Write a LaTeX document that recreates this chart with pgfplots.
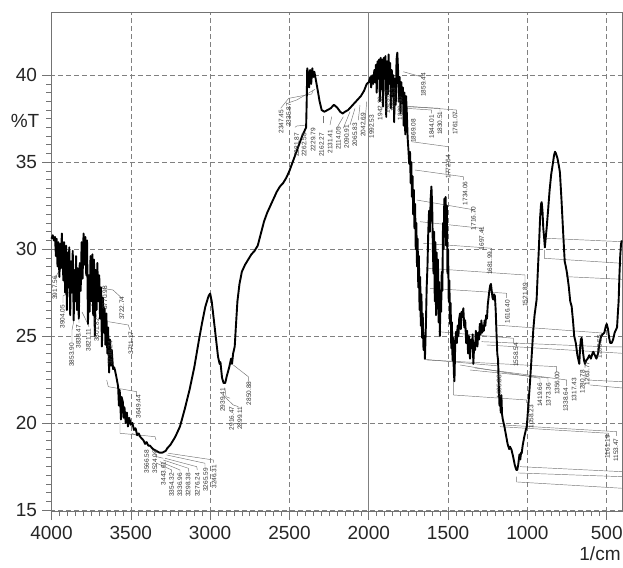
\documentclass[border=0pt]{standalone}
\usepackage{fontspec}
\setmainfont{Liberation Sans}
\usepackage{pgfplots}
\pgfplotsset{compat=1.18}
\pgfplotsset{leader/.style={black!55, line width=0.45pt, mark=none}}
\newcommand\ld[1]{\addplot[leader] table[row sep=\\, x expr={4000-(\thisrow{a}-51.5)*6.3036}, y expr={15+(510-\thisrow{b})*0.0575}] {a b\\ #1};}
\newcommand\pk[3]{\node[rotate=90, font=\fontsize{6.5}{7}\selectfont, text=black!80, inner sep=0pt] at (axis cs:#1,#2) {#3};}
\begin{document}
\begin{tikzpicture}
\begin{axis}[
  scale only axis, width=571.2pt, height=498.7pt,
  x dir=reverse, xmin=399.4, xmax=4000, ymin=14.94, ymax=43.62,
  axis line style={draw=black!55, line width=0.7pt},
  xtick={500,1000,...,4000}, ytick={15,20,...,40},
  minor x tick num=9, minor y tick num=9,
  tick align=outside, tick pos=left,
  major tick length=9pt, minor tick length=5pt,
  tick style={black!55, line width=0.6pt},
  grid=major,
  major grid style={black!50, line width=0.6pt, dash pattern=on 4.5pt off 3.5pt},
  /pgf/number format/assume math mode=true,
  /pgf/number format/1000 sep={},
  ticklabel style={font=\fontsize{19}{22}\selectfont, text=black!85},
  xticklabel style={yshift=-3pt},
  yticklabel style={xshift=-2pt},
  clip=false,
]
\addplot[black!50, line width=0.7pt, mark=none] coordinates {(2000,14.94) (2000,43.62)};
% leader lines (pixel positions of the reference, mapped onto the axes)
\ld{55 278\\ 61.7 266.7\\ 66 264\\}
\ld{63 303\\ 63 296\\ 70 292\\}
\ld{72 342\\ 72 330\\ 74 320\\}
\ld{79 323\\ 79 313\\ 80 305\\}
\ld{89 327\\ 85 318\\ 82 312\\}
\ld{97 318\\ 95 310\\ 90 303\\}
\ld{100 288\\ 113 290\\ 121.7 298\\}
\ld{108.3 321.7\\ 128.3 325\\ 130 330\\}
\ld{106.7 380\\ 108.3 386.7\\ 136.7 391.7\\ 136.7 396.7\\}
\ld{120 421.7\\ 120 433.3\\ 155 436.7\\ 156 440\\}
\ld{131.7 433.3\\ 140 436.7\\ 146.7 443.3\\}
\ld{154.3 453.3\\ 156.7 456.7\\ 163.3 458.3\\}
\ld{168.3 453.3\\ 213.3 460\\ 213.3 462.7\\}
\ld{166.7 455\\ 205 463.3\\ 205 466.7\\}
\ld{165 458.3\\ 196.7 466.7\\ 197.3 470\\}
\ld{163.3 460\\ 188.3 468.3\\ 188.3 471.7\\}
\ld{160 461.7\\ 180 470\\ 180 471.7\\}
\ld{156.7 463.3\\ 171.7 470\\ 171.7 472.7\\}
\ld{225 388.3\\ 226 396.7\\ 230 398.3\\}
\ld{222.7 395\\ 233.3 405\\ 238.3 406.7\\}
\ld{233.3 365\\ 248.3 376.7\\ 248.3 381.7\\}
\ld{280.7 108.3\\ 288.7 98.3\\ 311.7 94\\ 313.3 90\\}
\ld{288.7 102.7\\ 296.7 100\\ 315 89.3\\}
\ld{295 127.3\\ 296.7 126\\ 306.7 125\\}
\ld{323.3 123.3\\ 323.3 116\\}
\ld{330 125\\ 331.7 116.7\\}
\ld{336.7 128.3\\ 343.3 116.7\\}
\ld{343.3 128.3\\ 350 111.7\\}
\ld{350 125\\ 355 108.3\\}
\ld{358.3 120\\ 360 105\\}
\ld{365 121.7\\ 366.7 101.7\\}
\ld{403.3 71.7\\ 423.3 77.3\\}
\ld{405 106\\ 456.7 110\\ 456.7 113.3\\}
\ld{406.7 106.7\\ 440 108.3\\ 440 111.7\\}
\ld{406 108.3\\ 431.7 110\\ 431.7 113.3\\}
\ld{411.7 141.7\\ 448.3 146.7\\ 448.3 152\\}
\ld{415 170\\ 463.3 176.7\\ 463.3 180\\}
\ld{416.7 200\\ 475 210\\ 475 213\\}
\ld{420 221.7\\ 481.7 228.3\\ 481.7 231\\}
\ld{423.3 243.3\\ 491.7 248.3\\ 491.7 252\\}
\ld{428.3 268.3\\ 525 275\\ 525 282\\}
\ld{430 288.3\\ 506.7 293.3\\ 506.7 298\\}
\ld{546.7 238.3\\ 622 241.7\\}
\ld{544.3 250\\ 544.3 258.3\\ 622 263.3\\}
\ld{566.7 270\\ 566.7 276.7\\ 622 279.3\\}
\ld{438.3 331.7\\ 513.3 338.3\\ 513.3 343\\}
\ld{495 325\\ 601.7 333\\ 601.7 336\\}
\ld{481.7 341.7\\ 603 346.7\\ 622 347\\}
\ld{486.7 345\\ 622 353.3\\}
\ld{426.7 360\\ 556.7 366.7\\ 556.7 372\\}
\ld{424 359.3\\ 499 366\\ 499 372\\}
\ld{460 365\\ 540 378.3\\ 540 382\\}
\ld{470 370\\ 548 378\\ 548 382\\}
\ld{475 368\\ 566.7 380\\ 566.7 386\\}
\ld{453.3 380\\ 453.3 395\\ 526.7 400\\ 526.7 403\\}
\ld{500 426.7\\ 608.3 433.3\\ 608.3 437\\}
\ld{503.3 425\\ 616.7 431.7\\ 616.7 436\\}
\ld{520 466.7\\ 622 471.7\\}
\ld{518 473\\ 622 476.7\\}
\ld{516.7 476.7\\ 516.7 482\\ 622 488.3\\}
\ld{586.7 380\\ 622 381.7\\}
\ld{590 385\\ 622 388\\}
% spectrum
\addplot[black, line width=1.9pt, line join=round, mark=none] coordinates {
(4000,30.6)(3992,30.8)(3985,30.5)(3978,30.7)(3972,29.6)(3968,30.6)(3962,29.0)(3957,30.4)
(3950,28.4)(3945,30.3)(3940,28.9)(3935,30.9)(3930,29.5)(3925,28.2)(3920,30.4)(3914,27.5)
(3908,30.2)(3903,26.5)(3898,29.8)(3893,27.8)(3888,30.1)(3882,26.2)(3877,29.3)(3872,27.5)
(3866,29.9)(3860,25.9)(3855,28.8)(3850,27.0)(3845,29.6)(3840,26.5)(3835,28.9)(3828,26.0)
(3822,29.2)(3816,27.6)(3810,30.4)(3804,28.3)(3798,30.9)(3792,29.1)(3786,30.7)(3781,28.5)
(3776,30.5)(3770,25.7)(3765,28.5)(3760,26.4)(3754,29.6)(3748,27.0)(3742,29.7)(3737,26.2)
(3732,29.4)(3727,25.0)(3722,28.8)(3716,26.5)(3711,29.2)(3705,27.0)(3699,28.5)(3694,26.0)
(3688,27.8)(3682,24.4)(3676,27.2)(3670,25.2)(3665,26.6)(3660,24.5)(3654,26.3)(3648,24.0)
(3643,25.5)(3637,22.9)(3631,24.8)(3625,23.3)(3620,24.2)(3612,23.1)(3605,23.2)(3600,23.05)
(3590,22.6)(3580,22.1)(3575,21.0)(3570,21.9)(3562,20.2)(3558,21.5)(3550,21.2)(3545,20.3)
(3540,20.9)(3532,20.0)(3525,20.6)(3518,19.8)(3510,20.3)(3500,19.9)(3490,20.0)(3480,19.6)
(3470,19.7)(3460,19.3)(3450,19.4)(3440,19.2)(3430,19.1)(3420,19.0)(3410,18.8)(3400,18.9)
(3390,18.7)(3380,18.7)(3370,18.6)(3360,18.5)(3350,18.45)(3340,18.4)(3330,18.35)(3320,18.3)
(3310,18.3)(3300,18.3)(3290,18.35)(3280,18.4)(3270,18.55)(3250,18.75)(3220,19.2)(3190,19.8)
(3160,20.8)(3130,21.9)(3100,23.2)(3070,24.8)(3050,25.8)(3030,26.7)(3010,27.3)(3000,27.45)
(2990,27.0)(2980,26.2)(2965,25.0)(2950,23.8)(2940,23.4)(2935,23.5)(2925,22.6)(2915,22.3)
(2905,22.3)(2895,22.7)(2880,23.2)(2868,23.7)(2862,23.4)(2855,24.0)(2845,24.4)(2838,25.5)
(2828,27.0)(2815,28.0)(2800,28.7)(2780,29.1)(2760,29.4)(2740,29.7)(2720,29.9)(2700,30.2)
(2680,30.9)(2660,31.6)(2640,32.1)(2620,32.5)(2600,32.9)(2580,33.3)(2560,33.6)(2540,33.8)
(2520,34.1)(2500,34.5)(2480,35.0)(2460,35.5)(2440,36.0)(2420,36.5)(2405,36.8)(2395,37.0)
(2391,38.6)(2388,40.4)(2382,40.1)(2376,39.3)(2370,40.3)(2363,39.5)(2356,40.4)(2350,39.9)
(2343,40.2)(2335,39.8)(2325,39.3)(2310,38.5)(2297,38.0)(2280,37.9)(2260,38.0)(2240,38.1)
(2220,38.3)(2200,38.15)(2180,37.9)(2165,37.8)(2150,37.9)(2130,38.0)(2110,38.2)(2090,38.4)
(2070,38.6)(2050,38.8)(2030,39.1)(2013,39.5)(2000,39.6)(1990,39.9)(1985,39.3)(1978,40.0)
(1972,39.5)(1965,40.3)(1960,39.6)(1955,40.6)(1950,39.0)(1945,40.8)(1940,39.8)(1935,40.9)
(1930,38.5)(1925,41.0)(1920,39.2)(1915,40.9)(1910,38.2)(1905,41.0)(1900,39.8)(1895,41.1)
(1890,37.6)(1885,40.8)(1880,38.9)(1875,41.2)(1870,39.5)(1865,40.7)(1860,38.1)(1855,40.3)
(1850,38.8)(1845,40.0)(1840,37.3)(1835,39.8)(1830,38.3)(1825,40.9)(1820,41.3)(1815,40.2)
(1810,38.5)(1805,39.9)(1800,37.8)(1795,39.6)(1790,38.4)(1785,39.3)(1780,37.1)(1775,39.0)
(1770,36.6)(1765,38.8)(1760,37.8)(1755,36.4)(1750,35.7)(1745,34.9)(1740,35.6)(1736,33.8)
(1732,35.0)(1728,33.0)(1724,34.2)(1720,32.0)(1716,33.4)(1712,31.2)(1708,32.6)(1704,30.0)
(1700,31.5)(1696,29.0)(1692,30.6)(1688,27.8)(1684,29.6)(1680,26.5)(1676,28.4)(1672,25.6)
(1668,27.4)(1664,24.9)(1660,26.3)(1655,24.2)(1650,25.0)(1646,23.7)(1640,25.6)(1635,27.8)
(1630,29.0)(1625,31.0)(1620,32.2)(1615,31.0)(1610,32.9)(1605,33.6)(1600,32.4)(1596,30.0)
(1592,28.6)(1588,31.0)(1584,27.0)(1580,30.4)(1576,26.2)(1572,29.8)(1568,27.5)(1564,29.4)
(1560,25.8)(1556,28.1)(1552,25.0)(1548,27.2)(1544,26.4)(1540,28.7)(1536,27.6)(1532,31.5)
(1528,30.0)(1524,32.9)(1520,31.4)(1516,33.0)(1512,30.2)(1508,32.5)(1504,28.6)(1500,30.0)
(1496,27.0)(1492,28.2)(1488,25.7)(1484,26.9)(1480,24.3)(1476,25.8)(1472,23.6)(1468,24.9)
(1464,22.9)(1460,22.4)(1455,24.6)(1450,25.25)(1445,24.6)(1440,25.6)(1435,25.0)(1430,26.0)
(1425,26.3)(1420,25.4)(1415,26.4)(1410,26.1)(1404,26.6)(1398,25.5)(1392,25.9)(1386,24.6)
(1380,25.3)(1374,24.0)(1368,25.0)(1362,23.7)(1356,24.8)(1350,24.3)(1345,25.1)(1341,23.4)
(1335,24.6)(1330,24.2)(1325,25.3)(1320,25.0)(1315,24.4)(1310,25.2)(1305,24.8)(1300,25.7)
(1295,25.1)(1290,25.9)(1285,25.2)(1280,25.6)(1275,25.3)(1270,25.9)(1265,25.6)(1260,26.2)
(1255,26.0)(1250,26.8)(1245,27.2)(1240,27.6)(1235,27.9)(1230,28.0)(1225,27.6)(1220,27.2)
(1215,27.1)(1210,27.4)(1205,27.3)(1200,26.5)(1195,25.2)(1190,24.0)(1185,23.6)(1180,22.0)
(1176,21.0)(1172,21.5)(1168,20.6)(1164,21.6)(1160,20.5)(1155,20.2)(1145,19.8)(1135,19.3)
(1125,18.8)(1115,18.5)(1110,18.64)(1100,18.45)(1090,18.06)(1080,17.6)(1070,17.3)(1064,17.3)
(1058,17.6)(1050,18.2)(1045,17.9)(1040,18.3)(1036,18.26)(1030,18.7)(1020,19.2)(1010,19.6)
(1004,19.8)(995,20.9)(984,22.3)(975,23.6)(963,25.35)(955,26.2)(942,27.1)(935,28.6)
(928,30.0)(920,31.8)(914,32.6)(910,32.7)(905,32.2)(900,31.2)(895,30.7)(890,30.1)
(885,30.6)(878,31.3)(870,32.2)(860,33.4)(850,34.3)(840,34.9)(832,35.4)(826,35.6)
(820,35.5)(810,35.2)(800,34.7)(795,34.4)(785,32.8)(775,31.0)(765,29.3)(758,29.0)
(750,28.6)(740,27.9)(730,27.0)(721,26.7)(711,25.7)(705,25.0)(695,24.6)(685,23.9)
(673,23.4)(668,24.3)(663,24.8)(658,24.9)(650,24.1)(643,23.6)(637,23.4)(630,23.6)
(620,23.7)(610,23.9)(600,23.7)(590,24.0)(585,24.1)(575,23.9)(565,23.7)(555,24.0)
(545,24.6)(535,25.0)(525,25.1)(515,25.2)(505,25.6)(500,25.7)(492,25.4)(485,24.9)
(478,24.6)(469,24.6)(460,24.8)(450,25.2)(440,25.4)(435,25.5)(430,26.3)(425,27.0)
(420,28.5)(415,29.6)(410,30.3)(405,30.5)
};
% peak labels
\pk{3978}{27.77}{3917.56}
\pk{3932}{26.12}{3904.05}
\pk{3873}{23.91}{3853.90}
\pk{3831}{24.96}{3838.47}
\pk{3768}{24.78}{3821.11}
\pk{3715}{25.35}{3801.82}
\pk{3663}{27.19}{3770.98}
\pk{3631}{24.03}{3736.24}
\pk{3557}{26.6}{3722.74}
\pk{3499}{24.6}{3711.17}
\pk{3453}{20.94}{3649.44}
\pk{3400}{17.78}{3566.58}
\pk{3348}{17.78}{3524.08}
\pk{3295}{17.11}{3443.61}
\pk{3242}{16.44}{3354.32}
\pk{3190}{16.44}{3336.96}
\pk{3138}{16.44}{3298.38}
\pk{3081}{16.44}{3276.24}
\pk{3028}{16.73}{3265.59}
\pk{2974}{16.91}{3246.31}
\pk{2921}{21.33}{2939.41}
\pk{2864}{20.27}{2916.47}
\pk{2812}{20.27}{2899.11}
\pk{2755}{21.71}{2850.88}
\pk{2553}{37.33}{2347.45}
\pk{2505}{37.71}{2335.87}
\pk{2454}{35.99}{2281.87}
\pk{2408}{35.99}{2262.58}
\pk{2350}{36.28}{2229.79}
\pk{2297}{35.99}{2162.27}
\pk{2244}{36.18}{2131.41}
\pk{2192}{36.37}{2114.05}
\pk{2139}{36.46}{2090.91}
\pk{2087}{36.56}{2065.83}
\pk{2035}{37.14}{2042.69}
\pk{1982}{37.04}{1992.53}
\pk{1929}{38.1}{1942.38}
\pk{1883}{38.48}{1923.08}
\pk{1847}{38.58}{1903.53}
\pk{1803}{38.1}{1880.30}
\pk{1719}{36.8}{1869.08}
\pk{1656}{39.44}{1859.44}
\pk{1603}{37.04}{1844.01}
\pk{1551}{37.24}{1830.51}
\pk{1456}{37.24}{1761.07}
\pk{1499}{34.74}{1772.64}
\pk{1393}{33.21}{1734.06}
\pk{1341}{31.77}{1716.70}
\pk{1288}{30.62}{1697.41}
\pk{1236}{29.19}{1681.99}
\pk{1015}{27.36}{1521.89}
\pk{1127}{26.4}{1616.40}
\pk{1072}{23.91}{1558.54}
\pk{1179}{22.09}{1635.88}
\pk{977}{20.36}{1058.23}
\pk{921}{21.61}{1419.66}
\pk{868}{21.61}{1373.36}
\pk{812}{22.29}{1356.00}
\pk{759}{21.33}{1338.64}
\pk{706}{21.9}{1317.43}
\pk{654}{22.38}{1280.78}
\pk{624}{22.86}{1263.77}
\pk{547}{24.39}{1205.55}
\pk{496}{18.64}{1161.19}
\pk{442}{18.45}{1153.47}
\end{axis}
\node[font=\fontsize{19}{22}\selectfont, text=black!85] at ([shift={(-26.5pt,390pt)}]current axis.south west) {\%T};
\node[font=\fontsize{19}{22}\selectfont, text=black!85] at ([shift={(548.5pt,-43pt)}]current axis.south west) {1/cm};
\pgfresetboundingbox
\path ([shift={(-51.5pt,-56pt)}]current axis.south west) rectangle ([shift={(0.3pt,12.3pt)}]current axis.north east);
\end{tikzpicture}
\end{document}
